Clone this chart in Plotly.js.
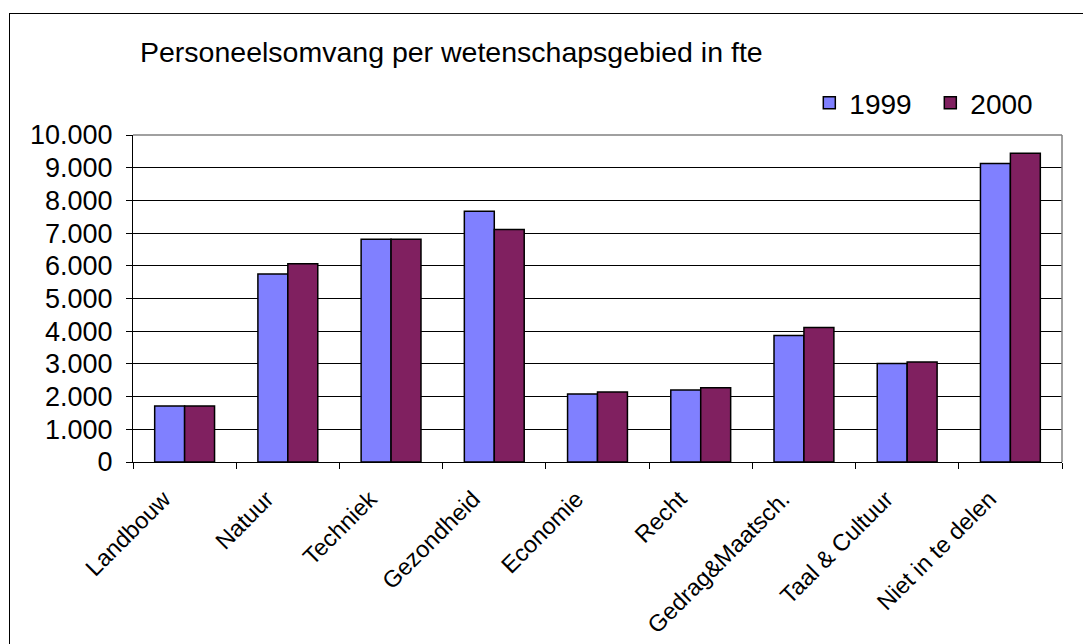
<!DOCTYPE html>
<html>
<head>
<meta charset="utf-8">
<script src="https://cdn.plot.ly/plotly-3.0.1.min.js"></script>
<style>
  html, body { margin: 0; padding: 0; background: #fff; }
  #wrap { position: relative; width: 1083px; height: 644px; overflow: hidden; }
  #chart { width: 1083px; height: 644px; }
  #frame { position: absolute; left: 9px; top: 13px; width: 3000px; height: 3000px;
           border: 1px solid #000; pointer-events: none; background: transparent; }
</style>
</head>
<body>
<div id="wrap">
  <div id="chart"></div>
  <div id="frame"></div>
</div>
<script>
const categories = ["Landbouw", "Natuur", "Techniek", "Gezondheid", "Economie", "Recht", "Gedrag&Maatsch.", "Taal & Cultuur", "Niet in te delen"];
const values1999 = [1710, 5750, 6810, 7670, 2080, 2200, 3870, 3010, 9130];
const values2000 = [1710, 6060, 6810, 7110, 2140, 2270, 4110, 3060, 9440];
const seriesNames = ["1999", "2000"];
const titleText = "Personeelsomvang per wetenschapsgebied in fte";

const FONT = "Liberation Sans, Arial, sans-serif";

const traces = [
  { type: "bar", name: seriesNames[0], x: categories, y: values1999,
    marker: { color: "#8080FF", line: { color: "#000", width: 1.5 } } },
  { type: "bar", name: seriesNames[1], x: categories, y: values2000,
    marker: { color: "#802060", line: { color: "#000", width: 1.5 } } }
];

const layout = {
  width: 1083, height: 644,
  margin: { l: 133, r: 21, t: 135, b: 182, pad: 0 },
  paper_bgcolor: "#fff", plot_bgcolor: "#fff",
  separators: ",.",
  font: { family: FONT, color: "#000", size: 27 },
  title: { text: titleText, font: { family: FONT, size: 28.5, color: "#000" },
           xref: "container", yref: "container", x: 140 / 1083, xanchor: "left",
           y: 1 - 52 / 644, yanchor: "middle" },
  barmode: "group", bargap: 0.42, bargroupgap: 0,
  showlegend: true,
  legend: { orientation: "h", x: 0.728, xanchor: "left", y: 1.098, yanchor: "middle",
            entrywidth: 76, entrywidthmode: "pixels",
            font: { family: FONT, size: 28, color: "#000" }, bgcolor: "rgba(0,0,0,0)",
            itemclick: false, traceorder: "normal" },
  xaxis: {
    type: "category", tickangle: -45, tickson: "boundaries",
    ticks: "outside", ticklen: 6, tickcolor: "#000", tickwidth: 1,
    ticklabelshift: -21, ticklabelstandoff: 13,
    showline: true, linecolor: "#000", linewidth: 1,
    showgrid: false, zeroline: false,
    tickfont: { family: FONT, size: 23.5, color: "#000" }
  },
  yaxis: {
    range: [0, 10000], dtick: 1000, tick0: 0, tickformat: ",d",
    ticks: "outside", ticklen: 6, tickcolor: "#000", tickwidth: 1,
    ticklabelstandoff: 8,
    showline: true, linecolor: "#000", linewidth: 1,
    showgrid: true, gridcolor: "#000", gridwidth: 1, zeroline: false,
    tickfont: { family: FONT, size: 27, color: "#000" }
  },
  shapes: [
    { type: "line", xref: "paper", yref: "paper", x0: 0, x1: 1, y0: 1, y1: 1,
      line: { color: "#808080", width: 1.5 }, layer: "above" },
    { type: "line", xref: "paper", yref: "paper", x0: 1, x1: 1, y0: 0, y1: 1,
      line: { color: "#808080", width: 1.5 }, layer: "above" }
  ]
};

Plotly.newPlot("chart", traces, layout, { displayModeBar: false, staticPlot: true });
</script>
</body>
</html>
